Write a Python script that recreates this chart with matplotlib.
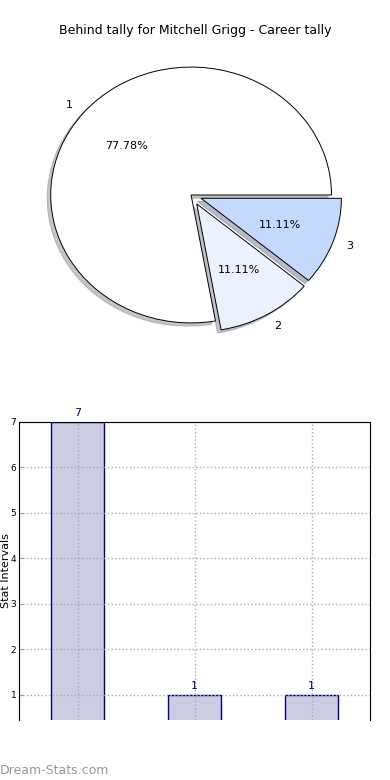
import numpy as np
import matplotlib
matplotlib.use("Agg")
import matplotlib.pyplot as plt

# data
categories = ["1", "2", "3"]
counts = [7, 1, 1]
pie_colors = ["#ffffff", "#eaf1ff", "#c5d9ff"]
explode = [0.0, 0.08, 0.075]

fig = plt.figure(figsize=(3.9, 7.8), dpi=100)

# pie
ax1 = fig.add_axes([0.04, 0.545, 0.9, 0.41])
wedges, texts, autotexts = ax1.pie(counts, labels=categories, colors=pie_colors,
                                   explode=explode, autopct="%1.2f%%",
                                   shadow=dict(ox=-0.018, oy=-0.018, shade=0.45),
                                   wedgeprops=dict(edgecolor="black", linewidth=0.7),
                                   textprops=dict(fontsize=8))
ax1.set_aspect("auto")
ax1.set_xlim(-1.25, 1.25)
ax1.set_ylim(-1.25, 1.25)
fig.text(0.5, 0.961, "Behind tally for Mitchell Grigg - Career tally",
         ha="center", va="center", fontsize=9)

# bars
ax2 = fig.add_axes([0.049, 0.077, 0.9, 0.382])
x = np.arange(len(counts))
bars = ax2.bar(x, counts, width=0.45, color="#ccccE3", edgecolor="navy", linewidth=1)
for xi, c in zip(x, counts):
    ax2.text(xi, c + 0.08, str(c), ha="center", va="bottom", color="navy", fontsize=8)
ax2.set_xlim(-0.5, 2.5)
ax2.set_ylim(0.45, 7)
ax2.set_yticks(range(1, 8))
ax2.set_xticks(x)
ax2.set_xticklabels([])
ax2.tick_params(axis="both", direction="in", labelsize=6.5, length=3, color="#999999", pad=2)
ax2.tick_params(axis="x", length=0)
ax2.grid(True, linestyle=":", color="#aaaaaa", linewidth=1)
for s in ax2.spines.values():
    s.set_zorder(3)
ax2.spines["bottom"].set_visible(False)
ax2.set_ylabel("Stat Intervals", fontsize=8, labelpad=0)

fig.text(0.0, 0.004, "Dream-Stats.com", color="#999999", fontsize=9, ha="left", va="bottom")

fig.savefig("out.png", dpi=100)
